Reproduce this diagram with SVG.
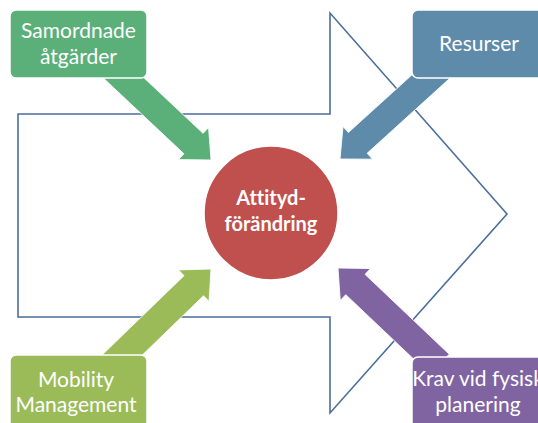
<svg xmlns="http://www.w3.org/2000/svg" xmlns:xlink="http://www.w3.org/1999/xlink" width="538" height="423" viewBox="0 0 538 423">
  <style>
    .outline { fill: none; stroke: #4A6E9C; stroke-width: 1.6; }
    .box { stroke: #ffffff; stroke-width: 1.5; }
    .lbl { font-family: Lato, "Liberation Sans", sans-serif; font-size: 21px; fill: #ffffff; text-anchor: middle; font-variant-ligatures: none; }
    .core { font-family: Lato, "Liberation Sans", sans-serif; font-size: 20px; font-weight: bold; fill: #ffffff; text-anchor: middle; font-variant-ligatures: none; }
    .arrow { stroke: #ffffff; stroke-width: 0.8; }
  </style>
  <defs>
    <!-- block arrow pointing along +x, tip at origin -->
    <path id="blk" d="M-140,-14 L-24,-14 L-24,-22 L0,0 L-24,22 L-24,14 L-140,14 Z"/>
  </defs>

  <rect width="538" height="423" fill="#ffffff"/>

  <!-- large background arrow outline -->
  <g id="flow-arrow">
    <polygon class="outline" points="18,114 330,114 330,13 507,214 330,413 330,317 18,317"/>
  </g>

  <!-- connectors: block arrows into the centre -->
  <g id="connectors">
    <use xlink:href="#blk" class="arrow" fill="#5BAF78" transform="translate(211,160) rotate(43.2)"/>
    <use xlink:href="#blk" class="arrow" fill="#5F8BAA" transform="translate(340,159) rotate(137.8)"/>
    <use xlink:href="#blk" class="arrow" fill="#8064A2" transform="translate(338,268) rotate(-136.5)"/>
    <use xlink:href="#blk" class="arrow" fill="#9BBB59" transform="translate(211,269) rotate(-44.1)"/>
  </g>

  <g id="samordnade">
    <rect class="box" x="10" y="10" width="137" height="68" rx="6" fill="#5BAF78"/>
    <text class="lbl" x="78.5" y="38">Samordnade</text>
    <text class="lbl" x="78.5" y="64">åtgärder</text>
  </g>

  <g id="resurser">
    <rect class="box" x="412" y="10" width="140" height="68" rx="6" fill="#5F8BAA"/>
    <text class="lbl" x="479" y="51">Resurser</text>
  </g>

  <g id="mobility">
    <rect class="box" x="10" y="355" width="137" height="80" rx="6" fill="#9BBB59"/>
    <text class="lbl" x="76" y="387">Mobility</text>
    <text class="lbl" x="76" y="412">Management</text>
  </g>

  <g id="krav">
    <rect class="box" x="412" y="357" width="140" height="80" rx="6" fill="#8064A2"/>
    <text class="lbl" x="478" y="386">Krav vid fysisk</text>
    <text class="lbl" x="478" y="412">planering</text>
  </g>

  <g id="attityd">
    <circle cx="271" cy="213" r="67" fill="#C0504D" stroke="#ffffff" stroke-width="1.5"/>
    <text class="core" x="271" y="205">Attityd-</text>
    <text class="core" x="271" y="231">förändring</text>
  </g>
</svg>
